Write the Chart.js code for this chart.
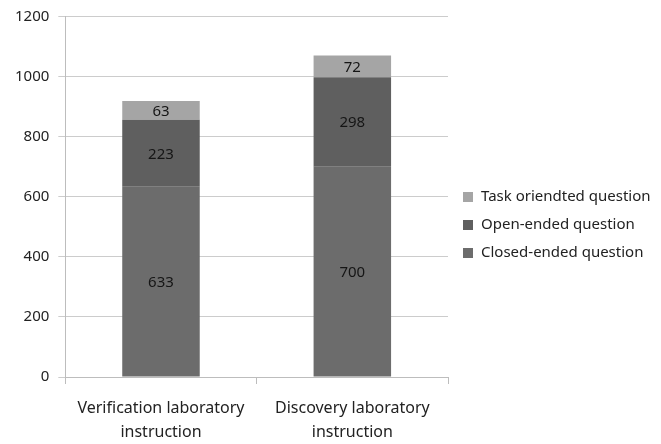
<!DOCTYPE html>
<html>
<head>
<meta charset="utf-8">
<script src="https://cdn.jsdelivr.net/npm/chart.js@4/dist/chart.umd.min.js"></script>
<style>
  html, body { margin: 0; padding: 0; background: #ffffff; }
  #wrap { width: 661px; height: 444px; }
</style>
</head>
<body>
<div id="wrap"><canvas id="c" width="661" height="444"></canvas></div>
<script>
// Question types asked under each kind of laboratory instruction
const categories = [
  ['Verification laboratory', 'instruction'],
  ['Discovery laboratory', 'instruction']
];
const closedEnded = [633, 700];
const openEnded = [223, 298];
const taskOriented = [63, 72];
const yTicks = [0, 200, 400, 600, 800, 1000, 1200];

const FONT = '"Noto Sans", "Open Sans", sans-serif';

// Writes each segment's value in the middle of its bar piece
const segmentValues = {
  id: 'segmentValues',
  afterDatasetsDraw(chart) {
    const ctx = chart.ctx;
    ctx.save();
    ctx.font = '15px ' + FONT;
    ctx.fillStyle = '#151515';
    ctx.textAlign = 'center';
    ctx.textBaseline = 'middle';
    chart.data.datasets.forEach((ds, i) => {
      const meta = chart.getDatasetMeta(i);
      meta.data.forEach((bar, j) => {
        const p = bar.getProps(['x', 'y', 'base'], true);
        ctx.fillText(String(ds.data[j]), p.x, (p.y + p.base) / 2 + 1);
      });
    });
    ctx.restore();
  }
};

// Legend to the right of the plot, top series first
const sideLegend = {
  id: 'sideLegend',
  afterDraw(chart) {
    const ctx = chart.ctx;
    const area = chart.chartArea;
    const items = chart.data.datasets.map(ds => ({ text: ds.label, color: ds.backgroundColor })).reverse();
    const rowGap = 28;
    const x = area.right + 15;
    const midY = (chart.height) / 2 + 3;
    const startY = midY - rowGap * (items.length - 1) / 2;
    ctx.save();
    ctx.font = '15px ' + FONT;
    ctx.textAlign = 'left';
    ctx.textBaseline = 'middle';
    items.forEach((it, k) => {
      const cy = startY + k * rowGap;
      ctx.fillStyle = it.color;
      ctx.fillRect(x, cy - 5, 10, 10);
      ctx.fillStyle = '#222222';
      ctx.fillText(it.text, x + 18, cy);
    });
    ctx.restore();
  }
};

new Chart(document.getElementById('c'), {
  type: 'bar',
  data: {
    labels: categories,
    datasets: [
      { label: 'Closed-ended question', data: closedEnded, backgroundColor: '#6c6c6c' },
      { label: 'Open-ended question', data: openEnded, backgroundColor: '#5f5f5f' },
      { label: 'Task oriendted question', data: taskOriented, backgroundColor: '#a5a5a5' }
    ]
  },
  options: {
    responsive: false,
    animation: false,
    devicePixelRatio: 1,
    layout: { padding: { top: 1, left: 6, right: 213, bottom: -12 } },
    datasets: {
      bar: { barPercentage: 0.405, categoryPercentage: 1.0, borderWidth: 0 }
    },
    scales: {
      x: {
        stacked: true,
        grid: { drawOnChartArea: false, drawTicks: true, tickLength: 7, color: '#bdbdbd', offset: true },
        border: { color: '#bdbdbd' },
        ticks: { color: '#222222', font: { family: FONT, size: 16, lineHeight: 1.5 }, padding: 12, maxRotation: 0 }
      },
      y: {
        stacked: true,
        min: 0,
        max: 1200,
        afterBuildTicks(axis) { axis.ticks = yTicks.map(v => ({ value: v })); },
        grid: { color: '#cccccc', tickLength: 7 },
        border: { color: '#bdbdbd' },
        ticks: { color: '#222222', font: { family: FONT, size: 15, lineHeight: 1.0 }, padding: 9, callback: v => String(v) }
      }
    },
    plugins: {
      legend: { display: false },
      tooltip: { enabled: false }
    }
  },
  plugins: [segmentValues, sideLegend]
});
</script>
</body>
</html>
